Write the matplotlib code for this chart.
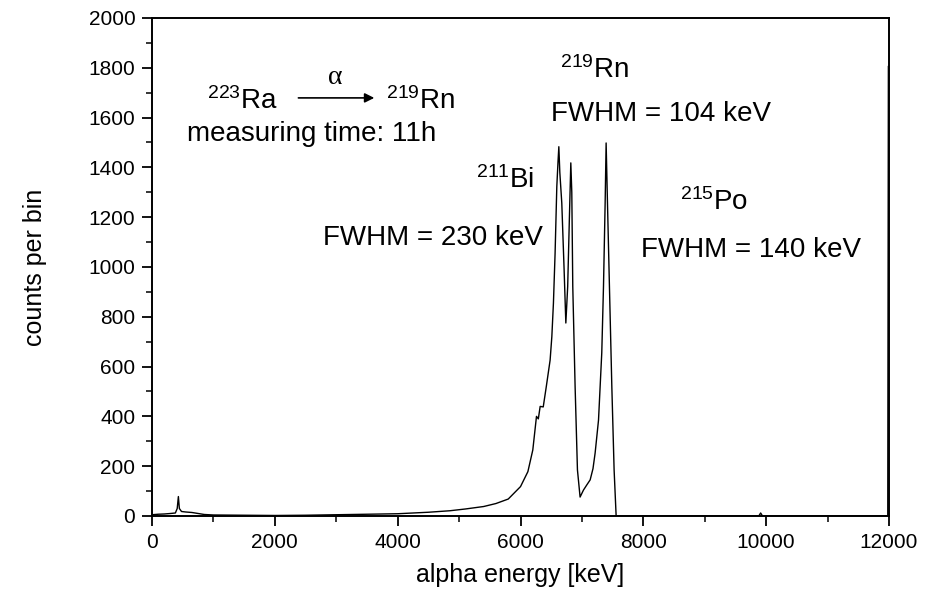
import matplotlib.pyplot as plt
from matplotlib.ticker import MultipleLocator

plt.rcParams['font.family'] = ['Liberation Sans', 'DejaVu Sans']
plt.rcParams['mathtext.fontset'] = 'custom'
plt.rcParams['mathtext.rm'] = 'Liberation Sans'
plt.rcParams['mathtext.it'] = 'Liberation Sans'

# alpha spectrum (keV, counts per bin)
energy = [0, 100, 200, 300, 380, 410, 429, 445, 480, 550, 650, 750, 850, 1000,
          1500, 2000, 2500, 3000, 3500, 4000, 4500, 4850, 5100, 5400, 5600, 5800,
          6000, 6120, 6200, 6260, 6290, 6320, 6370, 6420, 6482, 6510, 6536, 6563,
          6591, 6610, 6624, 6640, 6672, 6710, 6738, 6768, 6795, 6819, 6835, 6851,
          6889, 6927, 6970, 7025, 7080, 7134, 7180, 7215, 7270, 7323, 7351, 7378,
          7394, 7416, 7448, 7487, 7524, 7557, 7600, 8000, 9000, 9880, 9910, 9940,
          10500, 11000, 11970, 11980, 11990]
counts = [5, 7, 8, 10, 12, 30, 78, 30, 18, 16, 14, 10, 6, 4,
          3, 2, 3, 5, 7, 9, 15, 21, 28, 38, 50, 68,
          118, 178, 265, 400, 390, 440, 438, 520, 626, 720, 855, 1055,
          1323, 1420, 1483, 1380, 1257, 988, 775, 921, 1189, 1418, 1300, 921,
          519, 185, 76, 104, 125, 145, 190, 253, 385, 655, 921, 1257,
          1498, 1257, 921, 518, 185, 0, 0, 0, 0, 0, 12, 0,
          0, 0, 0, 0, 1805]

fig = plt.figure(figsize=(9.35, 5.99), dpi=100)
ax = fig.add_axes([0.1626, 0.1386, 0.7882, 0.8314])

ax.plot(energy, counts, color='black', lw=1.0)

ax.set_xlim(0, 12000)
ax.set_ylim(0, 2000)
ax.xaxis.set_major_locator(MultipleLocator(2000))
ax.xaxis.set_minor_locator(MultipleLocator(1000))
ax.yaxis.set_major_locator(MultipleLocator(200))
ax.yaxis.set_minor_locator(MultipleLocator(100))
ax.tick_params(which='major', direction='out', length=7, width=1.3, labelsize=15, pad=5)
ax.tick_params(which='minor', direction='out', length=4, width=1.1)
for s in ax.spines.values():
    s.set_linewidth(1.4)

ax.set_xlabel('alpha energy [keV]', fontsize=18, labelpad=8)
ax.set_ylabel('counts per bin', fontsize=18, labelpad=30)

fs = 20
ax.text(900, 1665, r'$^{\mathrm{223}}$Ra', fontsize=fs, va='center', ha='left')
ax.annotate('', xy=(3664, 1679), xytext=(2338, 1679),
            arrowprops=dict(arrowstyle='-|>', color='black', lw=1.2, mutation_scale=14))
ax.text(2980, 1760, 'α', fontsize=fs, ha='center', va='center',
        family=['Liberation Serif', 'DejaVu Serif'])
ax.text(3810, 1665, r'$^{\mathrm{219}}$Rn', fontsize=fs, va='center', ha='left')
ax.text(570, 1535, 'measuring time: 11h', fontsize=fs, va='center', ha='left')

ax.text(6650, 1790, r'$^{\mathrm{219}}$Rn', fontsize=fs, va='center', ha='left')
ax.text(6500, 1616, 'FWHM = 104 keV', fontsize=fs, va='center', ha='left')
ax.text(5280, 1350, r'$^{\mathrm{211}}$Bi', fontsize=fs, va='center', ha='left')
ax.text(6370, 1118, 'FWHM = 230 keV', fontsize=fs, va='center', ha='right')
ax.text(8600, 1261, r'$^{\mathrm{215}}$Po', fontsize=fs, va='center', ha='left')
ax.text(7970, 1068, 'FWHM = 140 keV', fontsize=fs, va='center', ha='left')

fig.savefig('out.png', dpi=100)
